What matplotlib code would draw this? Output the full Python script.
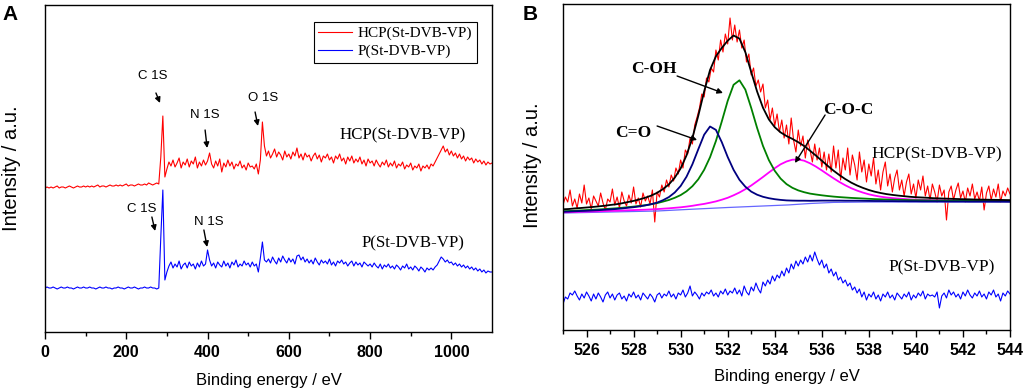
import numpy as np
import matplotlib
matplotlib.use('Agg')
import matplotlib.pyplot as plt


''' XPS spectra: survey scan (A) and O 1s high resolution scan with peak fit (B)
'''

##############################################################################
# Panel A - survey scans, binding energy 0..1100 eV in 5 eV steps
energy_a = np.arange(0, 1101, 5)

hcp_survey = [
    144, 145, 144, 145, 144, 145, 146, 144, 145, 145,
    144, 145, 146, 145, 144, 145, 146, 145, 145, 146,
    145, 146, 145, 146, 145, 146, 147, 145, 146, 146,
    145, 146, 147, 146, 146, 147, 146, 147, 146, 147,
    148, 146, 147, 147, 146, 147, 148, 147, 147, 148,
    147, 149, 148, 147, 148, 149, 148, 175, 216, 155,
    163, 170, 166, 172, 165, 169, 174, 164, 170, 167,
    173, 165, 171, 168, 175, 164, 170, 166, 172, 167,
    171, 179, 168, 164, 171, 166, 173, 160, 169, 165,
    172, 166, 170, 163, 168, 166, 171, 164, 167, 162,
    169, 165, 166, 163, 168, 158, 172, 210, 186, 176,
    181, 174, 178, 183, 175, 180, 177, 172, 181, 175,
    178, 173, 180, 176, 184, 174, 178, 172, 179, 175,
    177, 171, 176, 179, 173, 177, 170, 176, 174, 178,
    172, 175, 169, 176, 173, 178, 171, 174, 168, 175,
    171, 176, 169, 173, 170, 175, 168, 172, 166, 173,
    169, 171, 166, 172, 168, 165, 170, 167, 172, 165,
    169, 166, 171, 164, 168, 166, 170, 163, 167, 165,
    169, 162, 166, 164, 168, 161, 166, 164, 167, 163,
    168, 166, 170, 174, 178, 182, 186, 180, 183, 177,
    181, 176, 179, 174, 178, 173, 176, 171, 175, 172,
    174, 169, 173, 170, 172, 168, 171, 167, 170, 168,
    169]

p_survey = [
    44, 45, 44, 44, 45, 44, 43, 44, 45, 44,
    44, 45, 44, 44, 43, 44, 45, 44, 44, 45,
    44, 44, 45, 44, 44, 43, 44, 45, 44, 44,
    45, 44, 44, 43, 44, 44, 45, 44, 44, 43,
    44, 45, 44, 44, 45, 44, 43, 44, 44, 45,
    44, 44, 45, 44, 44, 43, 44, 95, 142, 52,
    60, 66, 70, 64, 68, 65, 71, 63, 67, 69,
    64, 70, 66, 68, 63, 69, 65, 71, 66, 68,
    82, 72, 66, 69, 64, 70, 67, 65, 71, 66,
    69, 64, 70, 67, 72, 65, 68, 66, 71, 67,
    69, 65, 70, 66, 68, 60, 74, 90, 72, 70,
    73, 69, 75, 71, 68, 74, 70, 76, 72, 69,
    74, 70, 73, 68, 76, 77, 72, 75, 70, 73,
    69, 72, 68, 74, 70, 67, 72, 69, 71, 68,
    73, 67, 70, 66, 71, 69, 72, 68, 70, 66,
    69, 71, 66, 70, 67, 69, 65, 70, 68, 66,
    68, 65, 69, 66, 64, 68, 63, 67, 65, 68,
    64, 66, 63, 67, 65, 62, 66, 64, 68, 63,
    65, 62, 66, 64, 61, 65, 63, 60, 64, 62,
    64, 62, 65, 67, 71, 75, 73, 70, 72, 69,
    70, 67, 69, 66, 68, 65, 67, 64, 66, 63,
    65, 62, 64, 61, 63, 60, 62, 59, 61, 60,
    60]

##############################################################################
# Panel B - O 1s scans, 525..544 eV in 0.1 eV steps
energy_b = np.linspace(525, 544, 191)

hcp_o1s = [
    125, 133, 128, 140, 124, 131, 122, 136, 127, 145,
    126, 132, 121, 134, 129, 124, 137, 127, 120, 131,
    128, 141, 125, 133, 122, 138, 129, 124, 135, 127,
    143, 126, 132, 123, 137, 129, 134, 126, 140, 108,
    138, 133, 145, 138, 150, 143, 155, 149, 162, 156,
    170, 162, 180, 176, 192, 186, 205, 213, 222, 236,
    233, 252, 248, 262, 258, 280, 270, 290, 278, 296,
    286, 312, 290, 305, 288, 300, 282, 290, 268, 276,
    255, 262, 244, 250, 238, 246, 222, 230, 210, 222,
    204, 216, 198, 210, 192, 205, 186, 212, 190, 178,
    200, 184, 194, 172, 190, 180, 168, 186, 170, 182,
    163, 178, 160, 176, 158, 184, 162, 180, 150, 172,
    160, 182, 155, 175, 165, 150, 178, 158, 170, 148,
    166, 154, 172, 146, 160, 140, 158, 168, 144, 156,
    138, 152, 160, 140, 150, 134, 148, 156, 136, 146,
    132, 150, 140, 154, 134, 144, 130, 146, 138, 128,
    145, 134, 140, 110, 138, 144, 130, 140, 147, 132,
    139, 128, 142, 134, 146, 131, 138, 129, 143, 120,
    137, 144, 130, 141, 133, 146, 128, 139, 134, 142,
    136]

p_o1s = [
    26, 33, 31, 37, 35, 39, 34, 30, 36, 32,
    38, 34, 29, 36, 31, 37, 33, 28, 35, 38,
    32, 36, 30, 35, 37, 31, 34, 29, 36, 33,
    38, 32, 35, 30, 37, 34, 31, 36, 33, 28,
    35, 37, 32, 36, 34, 39, 33, 36, 31, 37,
    35, 40, 33, 37, 44, 34, 38, 35, 31, 37,
    34, 38, 36, 40, 34, 37, 33, 39, 36, 41,
    35, 39, 37, 42, 36, 40, 34, 44, 38, 35,
    43, 39, 47, 41, 37, 48, 44, 50, 46, 54,
    49, 55, 52, 59, 54, 62, 57, 66, 61, 69,
    64, 70, 66, 73, 68, 75, 69, 78, 71, 65,
    70, 62, 66, 57, 61, 54, 58, 50, 53, 47,
    50, 44, 47, 40, 43, 37, 41, 33, 38, 30,
    36, 33, 38, 31, 35, 29, 36, 33, 38, 32,
    35, 30, 37, 34, 31, 36, 33, 38, 30, 35,
    32, 37, 34, 39, 31, 36, 34, 35, 33, 38,
    22, 34, 37, 32, 40, 35, 38, 33, 36, 31,
    38, 34, 40, 35, 32, 37, 34, 39, 33, 36,
    31, 38, 35, 40, 33, 36, 29, 37, 34, 39,
    36]

# fitted curves, 0.25 eV steps
energy_fit = np.linspace(525, 544, 77)

fit_c_o = [
    118.2, 118.4, 118.7, 119.0, 119.2, 119.5, 119.8, 120.2, 120.6, 121.0,
    121.5, 122.2, 122.8, 123.6, 124.6, 125.8, 127.4, 129.8, 132.9, 137.5,
    144.0, 153.3, 165.7, 180.7, 195.3, 203.5, 200.1, 187.8, 173.0, 160.2,
    150.2, 143.3, 138.4, 135.3, 133.2, 131.8, 130.8, 130.1, 129.6, 129.4,
    129.3, 129.3, 129.2, 129.3, 129.4, 129.4, 129.4, 129.4, 129.3, 129.3,
    129.3, 129.2, 129.1, 129.0, 129.0, 128.9, 128.9, 128.8, 128.8, 128.7,
    128.7, 128.6, 128.6, 128.6, 128.6, 128.5, 128.5, 128.5, 128.5, 128.4,
    128.4, 128.4, 128.4, 128.4, 128.4, 128.4, 128.3]

fit_c_oh = [
    118.8, 119.0, 119.3, 119.6, 119.9, 120.2, 120.5, 120.9, 121.3, 121.7,
    122.2, 122.8, 123.4, 124.1, 124.8, 125.8, 126.9, 128.4, 130.0, 132.2,
    134.9, 138.7, 143.8, 150.7, 160.2, 172.8, 189.0, 208.6, 229.1, 245.2,
    249.7, 240.4, 222.1, 202.1, 184.1, 169.9, 159.2, 151.4, 145.9, 142.2,
    139.6, 137.8, 136.4, 135.5, 134.7, 134.0, 133.4, 132.9, 132.5, 132.1,
    131.8, 131.5, 131.2, 130.9, 130.7, 130.5, 130.3, 130.2, 130.0, 129.9,
    129.8, 129.7, 129.6, 129.5, 129.4, 129.3, 129.2, 129.2, 129.1, 129.1,
    129.0, 129.0, 128.9, 128.9, 128.8, 128.8, 128.8]

fit_c_o_c = [
    117.7, 117.8, 118.0, 118.2, 118.4, 118.5, 118.7, 118.9, 119.1, 119.2,
    119.4, 119.7, 119.9, 120.1, 120.3, 120.6, 120.9, 121.3, 121.7, 122.2,
    122.7, 123.4, 124.2, 125.2, 126.1, 127.3, 128.6, 130.3, 132.2, 134.7,
    137.5, 140.8, 144.5, 148.7, 153.0, 157.5, 161.8, 165.7, 168.5, 170.3,
    170.5, 169.3, 166.7, 163.4, 159.6, 155.6, 151.7, 148.0, 144.7, 141.8,
    139.4, 137.4, 135.7, 134.4, 133.3, 132.5, 131.9, 131.4, 131.0, 130.6,
    130.4, 130.2, 130.0, 129.8, 129.7, 129.6, 129.5, 129.4, 129.3, 129.2,
    129.1, 129.1, 129.0, 128.9, 128.9, 128.8, 128.8]

fit_sum = [
    120.7, 121.0, 121.6, 122.0, 122.5, 123.0, 123.6, 124.2, 125.0, 125.7,
    126.7, 127.9, 129.1, 130.6, 132.3, 134.4, 137.2, 140.9, 145.6, 152.3,
    161.6, 174.6, 192.1, 214.2, 238.6, 260.0, 273.7, 282.1, 289.3, 294.5,
    291.4, 277.9, 258.0, 238.5, 222.3, 210.6, 202.8, 197.6, 194.0, 191.1,
    187.8, 184.0, 179.3, 174.4, 169.3, 164.2, 159.3, 154.9, 150.9, 147.4,
    144.5, 142.1, 140.0, 138.3, 137.0, 135.9, 135.1, 134.4, 133.8, 133.2,
    132.8, 132.5, 132.2, 131.8, 131.6, 131.4, 131.2, 131.0, 130.8, 130.7,
    130.5, 130.4, 130.3, 130.2, 130.1, 130.0, 129.9]

energy_base = [525, 527, 529, 530.5, 532, 533.5, 534.6, 535.5, 536.5, 538, 544]
fit_base = [117, 118, 119, 120.8, 122.5, 124, 125.1, 126.5, 127.6, 128, 128]

##############################################################################
plt.rcParams['font.family'] = 'Liberation Sans'
SERIF = 'Liberation Serif'

fig = plt.figure(figsize=(10.24, 3.91), dpi=100)
ax_a = fig.add_axes([45/1024, 59/391, 447/1024, 327/391])
ax_b = fig.add_axes([563/1024, 61/391, 447/1024, 326/391])


def style_axes(ax, major, minor):
    ax.set_xticks(major)
    ax.set_xticks(minor, minor=True)
    ax.set_yticks([])
    ax.tick_params(axis='x', which='major', direction='out', length=5, width=1,
                   pad=4.5, labelsize=11.5)
    ax.tick_params(axis='x', which='minor', direction='out', length=3, width=1)
    for lbl in ax.get_xticklabels():
        lbl.set_fontweight('bold')
    for s in ax.spines.values():
        s.set_linewidth(1.0)
    ax.set_xlabel('Binding energy / eV', fontsize=12)
    ax.set_ylabel('Intensity / a.u.', fontsize=14.5)


def arrow(ax, tail, head):
    ax.annotate('', xy=head, xytext=tail,
                arrowprops=dict(arrowstyle='-|>', color='black', lw=1,
                                mutation_scale=8, shrinkA=0, shrinkB=0))


# ---- A
ax_a.plot(energy_a, hcp_survey, color='#ff0000', lw=0.8, label='HCP(St-DVB-VP)')
ax_a.plot(energy_a, p_survey, color='#0000ff', lw=0.8, label='P(St-DVB-VP)')
ax_a.set_xlim(0, 1100)
ax_a.set_ylim(0, 327)
style_axes(ax_a, range(0, 1001, 200), range(100, 1100, 200))
ax_a.xaxis.set_label_coords(0.5, -0.147)
ax_a.xaxis.label.set_va('center')
ax_a.yaxis.set_label_coords(-0.054, 0.50)

leg = ax_a.legend(loc='upper right', bbox_to_anchor=(0.9664, 0.948),
                  prop={'family': SERIF, 'size': 11}, fancybox=False,
                  edgecolor='black', framealpha=1, borderpad=0.3,
                  handlelength=2.2, handletextpad=0.4, labelspacing=0.25,
                  borderaxespad=0)
leg.get_frame().set_linewidth(0.8)

ax_a.text(881, 197, 'HCP(St-DVB-VP)', family=SERIF, fontsize=12.2,
          ha='center', va='center')
ax_a.text(905, 89, 'P(St-DVB-VP)', family=SERIF, fontsize=12.2,
          ha='center', va='center')

for txt, pos, tail, head in [('C 1S', (266, 256), (273, 239), (283, 229)),
                             ('N 1S', (394, 217), (394, 202), (399, 184)),
                             ('O 1S', (536, 234), (517, 220), (524, 206)),
                             ('C 1S', (239, 123), (263, 115), (271, 101)),
                             ('N 1S', (404, 110), (391, 102), (399, 85))]:
    ax_a.text(pos[0], pos[1], txt, fontsize=9.5, ha='center', va='center')
    arrow(ax_a, tail, head)

# ---- B
ax_b.plot(energy_b, hcp_o1s, color='#ff0000', lw=0.8)
ax_b.plot(energy_b, p_o1s, color='#0000ff', lw=0.8)
ax_b.plot(energy_base, fit_base, color='#6666ff', lw=0.9)
ax_b.plot(energy_fit, fit_c_o_c, color='#ff00ff', lw=1.3)
ax_b.plot(energy_fit, fit_c_oh, color='#008000', lw=1.3)
ax_b.plot(energy_fit, fit_c_o, color='#000080', lw=1.3)
ax_b.plot(energy_fit, fit_sum, color='black', lw=1.3)
ax_b.set_xlim(525, 544)
ax_b.set_ylim(0, 326)
style_axes(ax_b, range(526, 545, 2), range(525, 545, 2))
ax_b.xaxis.set_label_coords(0.5, -0.144)
ax_b.xaxis.label.set_va('center')
ax_b.yaxis.set_label_coords(-0.047, 0.506)

ax_b.text(528.87, 261, 'C-OH', family=SERIF, fontsize=12.5, fontweight='bold',
          ha='center', va='center')
arrow(ax_b, (529.85, 254), (531.8, 237))
ax_b.text(527.98, 197, 'C=O', family=SERIF, fontsize=12.5, fontweight='bold',
          ha='center', va='center')
arrow(ax_b, (529.0, 204), (530.7, 190))
ax_b.text(537.11, 220, 'C-O-C', family=SERIF, fontsize=12.5, fontweight='bold',
          ha='center', va='center')
arrow(ax_b, (536.14, 215), (534.86, 167))
ax_b.text(540.9, 176, 'HCP(St-DVB-VP)', family=SERIF, fontsize=12.5,
          ha='center', va='center')
ax_b.text(541.11, 63, 'P(St-DVB-VP)', family=SERIF, fontsize=12.5,
          ha='center', va='center')

fig.text(10/1024, 1 - 15/391, 'A', fontsize=15, fontweight='bold',
         ha='center', va='center')
fig.text(530/1024, 1 - 15/391, 'B', fontsize=15, fontweight='bold',
         ha='center', va='center')

fig.savefig('out.png', dpi=100)
